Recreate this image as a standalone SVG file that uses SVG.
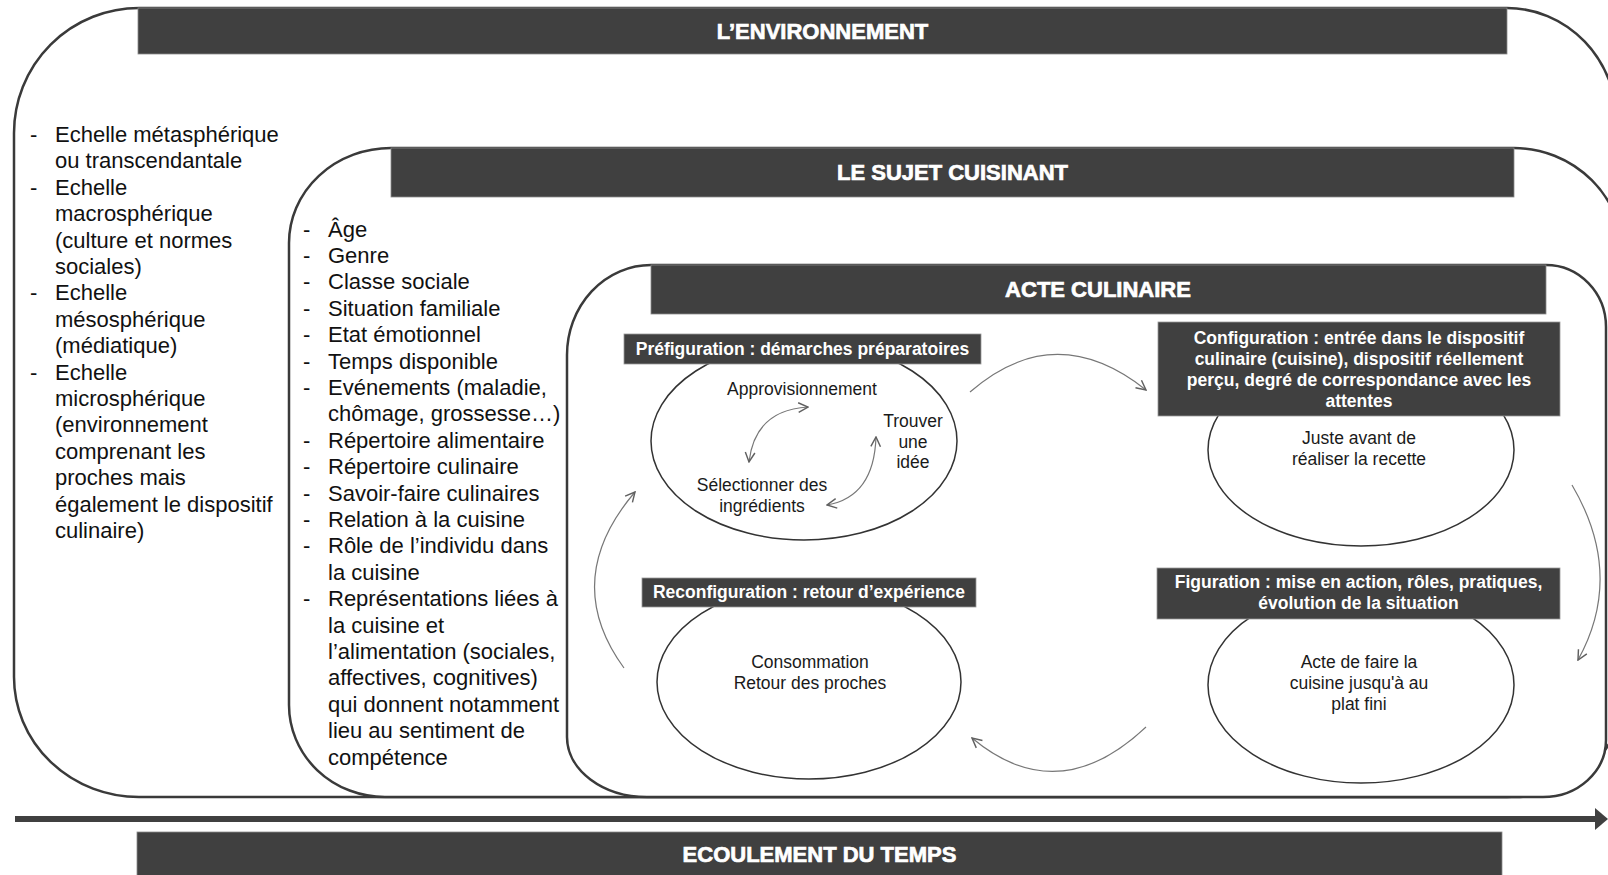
<svg xmlns="http://www.w3.org/2000/svg" width="1608" height="875" viewBox="0 0 1608 875">
<style>
.frame{fill:#fff;stroke:#3a3a3a;stroke-width:2.5}
.bar{fill:#404040;stroke:#8a8a8a;stroke-width:0.8}
.lbl{fill:#404040;stroke:#9a9a9a;stroke-width:0.8}
.title{font-family:"Liberation Sans",Arial,sans-serif;font-weight:bold;font-size:22px;fill:#fff;stroke:#fff;stroke-width:0.7;text-anchor:middle}
.lt{font-family:"Liberation Sans",Arial,sans-serif;font-weight:bold;font-size:17.5px;fill:#fff;text-anchor:middle}
.list{font-family:"Liberation Sans",Arial,sans-serif;font-size:22px;fill:#111}
.et{font-family:"Liberation Sans",Arial,sans-serif;font-size:17.5px;fill:#1a1a1a;text-anchor:middle}
.ell{fill:#fff;stroke:#333;stroke-width:1.5}
.thin{fill:none;stroke:#777;stroke-width:1.2}
</style>
<defs>
<marker id="open" markerUnits="userSpaceOnUse" markerWidth="12" markerHeight="12" viewBox="0 0 10 10" refX="9" refY="5" orient="auto-start-reverse">
<path d="M1,1 L9,5 L1,9" fill="none" stroke="#606060" stroke-width="1.2"/>
</marker>
</defs>

<g id="environnement">
<path class="frame" d="M139,8 L1507,8 A110,115 0 0 1 1617,123 L1617,700 A110,97 0 0 1 1507,797 L139,797 A125,120 0 0 1 14,677 L14,133 A125,125 0 0 1 139,8 Z"/>
<rect class="bar" x="138" y="8" width="1369" height="46"/>
<text class="title" x="822.5" y="39">L’ENVIRONNEMENT</text>
<text class="list">
<tspan x="30" y="142">-</tspan><tspan x="55" y="142">Echelle métasphérique</tspan>
<tspan x="55" y="168.4">ou transcendantale</tspan>
<tspan x="30" y="194.8">-</tspan><tspan x="55" y="194.8">Echelle</tspan>
<tspan x="55" y="221.2">macrosphérique</tspan>
<tspan x="55" y="247.6">(culture et normes</tspan>
<tspan x="55" y="274">sociales)</tspan>
<tspan x="30" y="300.4">-</tspan><tspan x="55" y="300.4">Echelle</tspan>
<tspan x="55" y="326.8">mésosphérique</tspan>
<tspan x="55" y="353.2">(médiatique)</tspan>
<tspan x="30" y="379.6">-</tspan><tspan x="55" y="379.6">Echelle</tspan>
<tspan x="55" y="406">microsphérique</tspan>
<tspan x="55" y="432.4">(environnement</tspan>
<tspan x="55" y="458.8">comprenant les</tspan>
<tspan x="55" y="485.2">proches mais</tspan>
<tspan x="55" y="511.6">également le dispositif</tspan>
<tspan x="55" y="538">culinaire)</tspan>
</text>
</g>

<g id="sujet">
<path class="frame" d="M391,148 L1514,148 A110,110 0 0 1 1624,258 L1624,690 A110,107 0 0 1 1514,797 L385,797 A96,92 0 0 1 289,705 L289,243 A102,95 0 0 1 391,148 Z"/>
<rect class="bar" x="391" y="148" width="1123" height="49"/>
<text class="title" x="952.5" y="180">LE SUJET CUISINANT</text>
<text class="list">
<tspan x="303" y="236.5">-</tspan><tspan x="328" y="236.5">Âge</tspan>
<tspan x="303" y="262.9">-</tspan><tspan x="328" y="262.9">Genre</tspan>
<tspan x="303" y="289.3">-</tspan><tspan x="328" y="289.3">Classe sociale</tspan>
<tspan x="303" y="315.7">-</tspan><tspan x="328" y="315.7">Situation familiale</tspan>
<tspan x="303" y="342.1">-</tspan><tspan x="328" y="342.1">Etat émotionnel</tspan>
<tspan x="303" y="368.5">-</tspan><tspan x="328" y="368.5">Temps disponible</tspan>
<tspan x="303" y="394.9">-</tspan><tspan x="328" y="394.9">Evénements (maladie,</tspan>
<tspan x="328" y="421.3">chômage, grossesse…)</tspan>
<tspan x="303" y="447.7">-</tspan><tspan x="328" y="447.7">Répertoire alimentaire</tspan>
<tspan x="303" y="474.1">-</tspan><tspan x="328" y="474.1">Répertoire culinaire</tspan>
<tspan x="303" y="500.5">-</tspan><tspan x="328" y="500.5">Savoir-faire culinaires</tspan>
<tspan x="303" y="526.9">-</tspan><tspan x="328" y="526.9">Relation à la cuisine</tspan>
<tspan x="303" y="553.3">-</tspan><tspan x="328" y="553.3">Rôle de l’individu dans</tspan>
<tspan x="328" y="579.7">la cuisine</tspan>
<tspan x="303" y="606.1">-</tspan><tspan x="328" y="606.1">Représentations liées à</tspan>
<tspan x="328" y="632.5">la cuisine et</tspan>
<tspan x="328" y="658.9">l’alimentation (sociales,</tspan>
<tspan x="328" y="685.3">affectives, cognitives)</tspan>
<tspan x="328" y="711.7">qui donnent notamment</tspan>
<tspan x="328" y="738.1">lieu au sentiment de</tspan>
<tspan x="328" y="764.5">compétence</tspan>
</text>
</g>

<g id="acte">
<path class="frame" d="M651,265 L1546,265 A60,62 0 0 1 1606,327 L1606,740 A63,57 0 0 1 1543,797 L647,797 A80,60 0 0 1 567,737 L567,355 A84,90 0 0 1 651,265 Z"/>
<rect class="bar" x="651" y="265" width="895" height="49"/>
<text class="title" x="1098" y="297">ACTE CULINAIRE</text>
</g>

<g id="prefiguration">
<ellipse class="ell" cx="804" cy="441" rx="153" ry="99"/>
<rect class="lbl" x="624" y="334" width="357" height="30"/>
<text class="lt" x="802.5" y="355">Préfiguration : démarches préparatoires</text>
<text class="et" x="802" y="395">Approvisionnement</text>
<text class="et"><tspan x="913" y="427">Trouver</tspan><tspan x="913" y="448">une</tspan><tspan x="913" y="468">idée</tspan></text>
<text class="et"><tspan x="762" y="491">Sélectionner des</tspan><tspan x="762" y="512">ingrédients</tspan></text>
<path class="thin" d="M808,407 Q755,410 749,462" marker-start="url(#open)" marker-end="url(#open)"/>
<path class="thin" d="M876,437 Q874,497 827,505" marker-start="url(#open)" marker-end="url(#open)"/>
</g>

<g id="configuration">
<ellipse class="ell" cx="1361" cy="450" rx="153" ry="96"/>
<rect class="lbl" x="1158" y="322" width="402" height="94"/>
<text class="lt"><tspan x="1359" y="344">Configuration : entrée dans le dispositif</tspan><tspan x="1359" y="365">culinaire (cuisine), dispositif réellement</tspan><tspan x="1359" y="386">perçu, degré de correspondance avec les</tspan><tspan x="1359" y="407">attentes</tspan></text>
<text class="et"><tspan x="1359" y="444">Juste avant de</tspan><tspan x="1359" y="465">réaliser la recette</tspan></text>
</g>

<g id="figuration">
<ellipse class="ell" cx="1361" cy="685" rx="153" ry="98"/>
<rect class="lbl" x="1157" y="568" width="403" height="51"/>
<text class="lt"><tspan x="1358.5" y="588">Figuration : mise en action, rôles, pratiques,</tspan><tspan x="1358.5" y="609">évolution de la situation</tspan></text>
<text class="et"><tspan x="1359" y="668">Acte de faire la</tspan><tspan x="1359" y="689">cuisine jusqu'à au</tspan><tspan x="1359" y="710">plat fini</tspan></text>
</g>

<g id="reconfiguration">
<ellipse class="ell" cx="809" cy="682" rx="152" ry="97"/>
<rect class="lbl" x="642" y="578" width="334" height="29"/>
<text class="lt" x="809" y="598">Reconfiguration : retour d’expérience</text>
<text class="et"><tspan x="810" y="668">Consommation</tspan><tspan x="810" y="689">Retour des proches</tspan></text>
</g>

<g id="connectors">
<path class="thin" d="M970,392 Q1055,318 1146,390" marker-end="url(#open)"/>
<path class="thin" d="M1572,485 Q1625,575 1578,660" marker-end="url(#open)"/>
<path class="thin" d="M1146,727 Q1058,810 972,738" marker-end="url(#open)"/>
<path class="thin" d="M624,668 Q560,580 635,492" marker-end="url(#open)"/>
<line x1="15" y1="819" x2="1598" y2="819" stroke="#404040" stroke-width="6"/>
<polygon points="1595,808 1608,819 1595,830" fill="#404040"/>
</g>

<g id="temps">
<rect class="bar" x="137" y="832" width="1365" height="46"/>
<text class="title" x="819.5" y="862">ECOULEMENT DU TEMPS</text>
</g>
</svg>
